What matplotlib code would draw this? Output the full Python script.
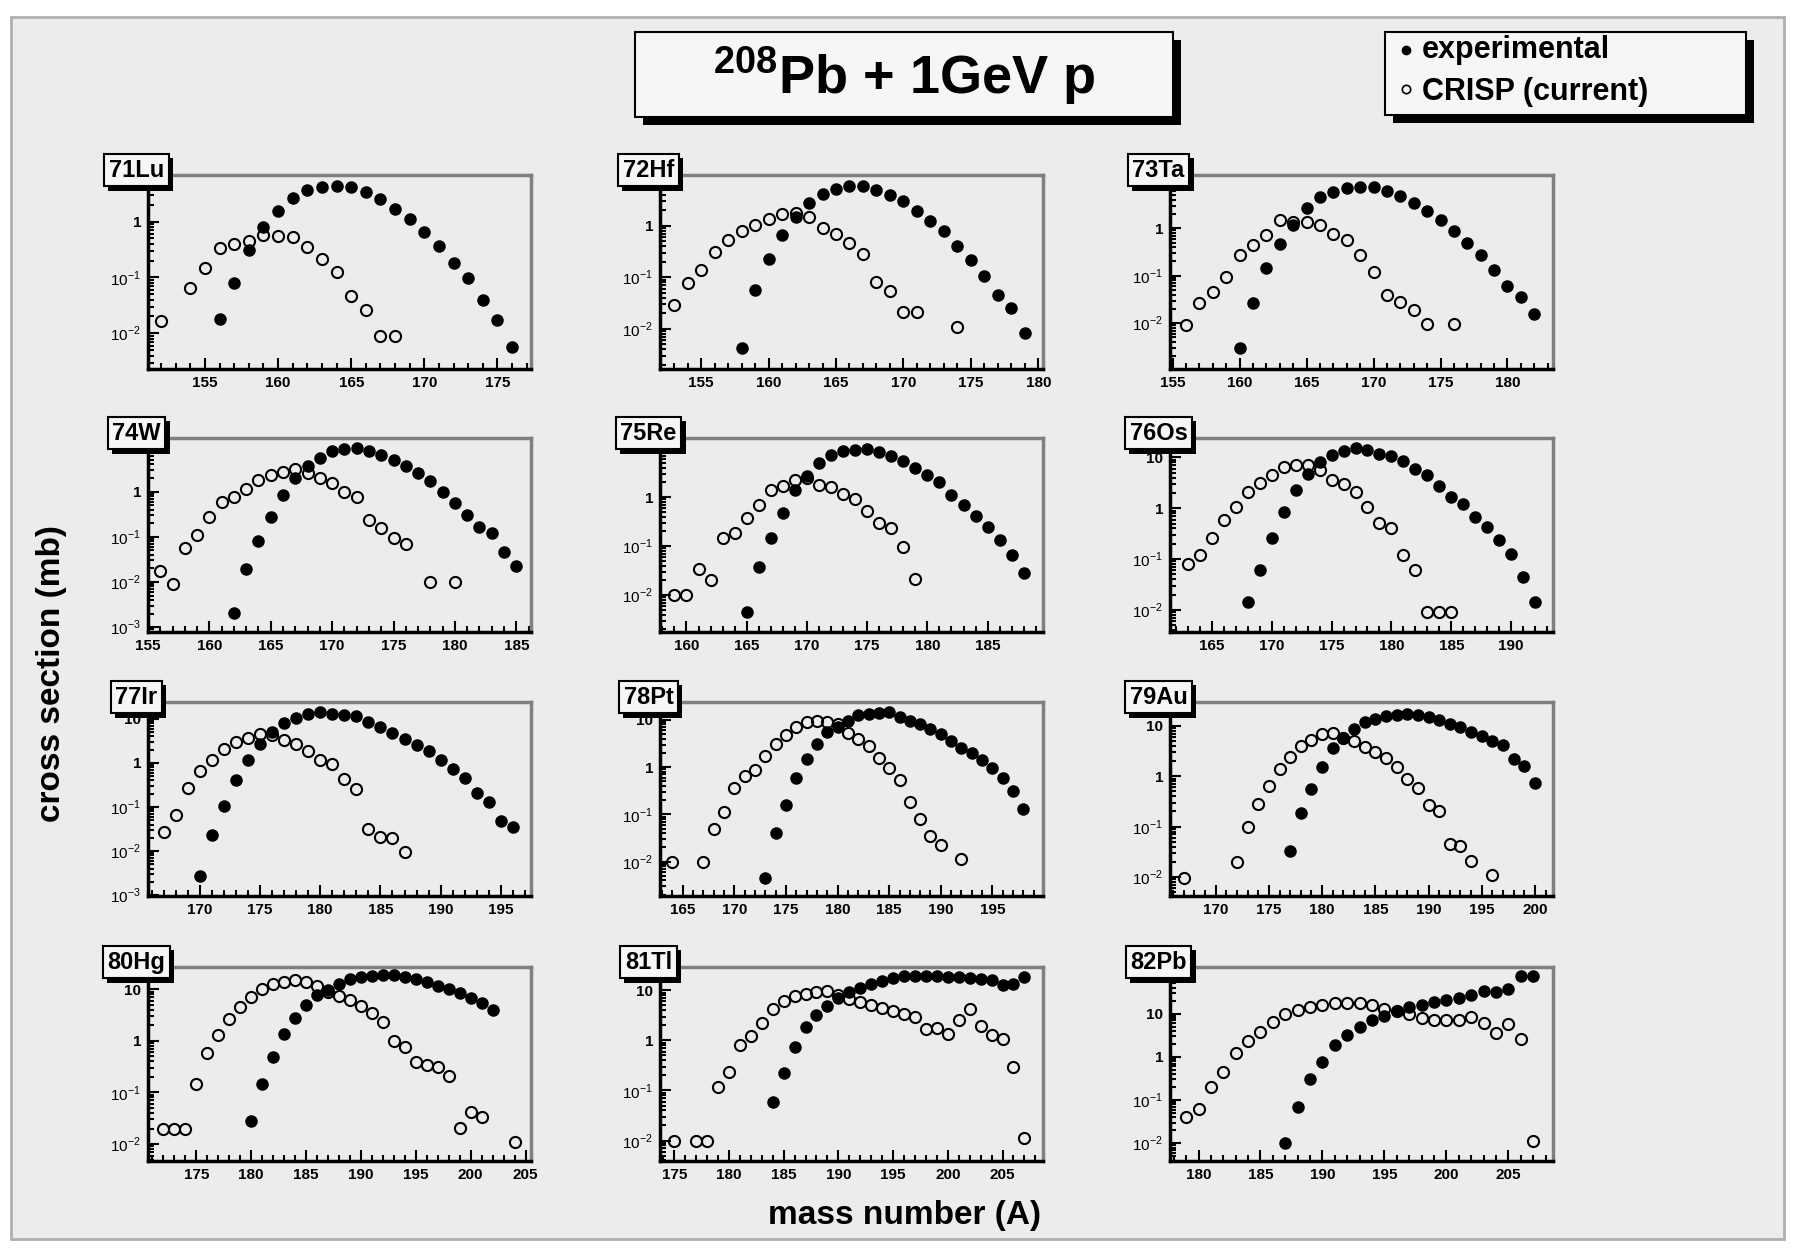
import numpy as np
import matplotlib.pyplot as plt
from matplotlib import patheffects
from matplotlib.lines import Line2D
from matplotlib.patches import Rectangle
from matplotlib.ticker import MultipleLocator, LogLocator, FuncFormatter, NullFormatter

plt.rcParams['font.family'] = ['Liberation Sans', 'DejaVu Sans']
plt.rcParams['mathtext.fontset'] = 'custom'
plt.rcParams['mathtext.rm'] = 'Liberation Sans'
plt.rcParams['mathtext.bf'] = 'Liberation Sans:bold'

# ---- data (cross sections in mb) ----
lu_exp_A = list(range(156, 177))
lu_exp = [0.018, 0.079, 0.31, 0.81, 1.57, 2.6, 3.6, 4.1, 4.3, 4.2, 3.4, 2.5, 1.7, 1.1,
          0.66, 0.37, 0.18, 0.097, 0.040, 0.0175, 0.0057]
lu_crisp_A = [152, 154, 155, 156, 157, 158, 159, 160, 161, 162, 163, 164, 165, 166, 167, 168]
lu_crisp = [0.0168, 0.064, 0.147, 0.33, 0.40, 0.44, 0.58, 0.54, 0.525, 0.35, 0.21, 0.123,
            0.047, 0.0265, 0.0088, 0.0088]

hf_exp_A = list(range(158, 180))
hf_exp = [0.0042, 0.057, 0.226, 0.66, 1.49, 2.79, 4.2, 5.05, 5.86, 5.86, 4.9, 3.9, 3.05,
          1.95, 1.25, 0.77, 0.40, 0.216, 0.106, 0.045, 0.025, 0.0082]
hf_crisp_A = list(range(153, 172)) + [174]
hf_crisp = [0.029, 0.077, 0.139, 0.31, 0.53, 0.80, 1.03, 1.33, 1.68, 1.79, 1.49, 0.89, 0.69,
            0.455, 0.28, 0.082, 0.053, 0.0207, 0.0207, 0.0108]

ta_exp_A = list(range(160, 183))
ta_exp = [0.0030, 0.0272, 0.144, 0.468, 1.17, 2.64, 4.5, 5.9, 6.95, 7.5, 7.3, 6.2, 4.8, 3.47,
          2.35, 1.5, 0.89, 0.483, 0.275, 0.133, 0.061, 0.0364, 0.0157]
ta_crisp_A = list(range(156, 175)) + [176]
ta_crisp = [0.0092, 0.027, 0.046, 0.093, 0.275, 0.446, 0.72, 1.5, 1.38, 1.38, 1.17, 0.76, 0.57,
            0.275, 0.122, 0.039, 0.0286, 0.019, 0.0097, 0.0097]

w_exp_A = list(range(162, 186))
w_exp = [0.00205, 0.0198, 0.0815, 0.278, 0.84, 1.98, 3.6, 5.5, 7.7, 8.7, 9.2, 7.7, 6.5, 5.05,
         3.7, 2.55, 1.67, 1.0, 0.57, 0.303, 0.167, 0.123, 0.046, 0.0223]
w_crisp_A = list(range(156, 177)) + [178, 180]
w_crisp = [0.0176, 0.0092, 0.055, 0.109, 0.278, 0.60, 0.75, 1.13, 1.82, 2.35, 2.64, 3.13, 2.55,
           1.98, 1.58, 1.0, 0.77, 0.235, 0.153, 0.092, 0.069, 0.010, 0.010]

re_exp_A = list(range(165, 189))
re_exp = [0.00456, 0.038, 0.145, 0.485, 1.41, 2.73, 4.97, 7.36, 8.6, 9.3, 9.6, 8.2, 6.8, 5.4,
          3.93, 2.87, 2.0, 1.12, 0.70, 0.415, 0.243, 0.134, 0.066, 0.0278]
re_crisp_A = list(range(159, 180))
re_crisp = [0.010, 0.010, 0.0336, 0.0203, 0.145, 0.189, 0.372, 0.70, 1.41, 1.71, 2.26, 2.45,
            1.79, 1.6, 1.17, 0.91, 0.533, 0.294, 0.232, 0.098, 0.021]

os_exp_A = list(range(168, 193))
os_exp = [0.0144, 0.0607, 0.256, 0.86, 2.3, 4.76, 7.96, 11.3, 13.1, 15.3, 13.7, 11.8, 10.5, 8.3,
          5.9, 4.55, 2.76, 1.7, 1.22, 0.66, 0.42, 0.237, 0.129, 0.0448, 0.0144]
os_crisp_A = list(range(163, 186))
os_crisp = [0.080, 0.12, 0.256, 0.59, 1.05, 2.13, 3.2, 4.55, 6.4, 7.2, 7.2, 5.7, 3.6, 3.0, 2.13,
            1.08, 0.506, 0.40, 0.12, 0.061, 0.0091, 0.0091, 0.0091]

ir_exp_A = list(range(170, 197))
ir_exp = [0.0027, 0.023, 0.104, 0.42, 1.19, 2.74, 5.03, 8.05, 10.6, 13.1, 14.3, 13.1, 12.0, 11.4,
          8.5, 6.5, 4.78, 3.56, 2.51, 1.87, 1.15, 0.744, 0.466, 0.209, 0.131, 0.0486, 0.0356]
ir_crisp_A = list(range(167, 188))
ir_crisp = [0.0274, 0.065, 0.276, 0.66, 1.15, 2.11, 2.99, 3.75, 4.46, 4.23, 3.38, 2.65, 1.87,
            1.15, 0.966, 0.44, 0.262, 0.031, 0.0211, 0.0194, 0.0097]

pt_exp_A = list(range(173, 199))
pt_exp = [0.0046, 0.0411, 0.158, 0.59, 1.46, 3.06, 5.44, 7.2, 9.7, 12.4, 13.4, 14.1, 14.6, 11.4,
          9.7, 8.2, 6.4, 5.0, 3.6, 2.6, 2.03, 1.39, 0.94, 0.59, 0.306, 0.13]
pt_crisp_A = [164] + list(range(167, 191)) + [192]
pt_crisp = [0.010, 0.010, 0.050, 0.114, 0.36, 0.64, 0.89, 1.72, 3.06, 4.85, 6.97, 8.9, 9.4, 8.9,
            8.2, 5.2, 3.9, 2.82, 1.58, 0.97, 0.544, 0.181, 0.079, 0.0349, 0.0228, 0.0114]

au_exp_A = list(range(177, 201))
au_exp = [0.0331, 0.188, 0.567, 1.54, 3.58, 5.8, 8.7, 11.8, 13.8, 15.4, 16.6, 17.1, 16.6, 14.7,
          13.0, 10.8, 9.3, 7.7, 6.4, 5.0, 4.17, 2.19, 1.61, 0.747]
au_crisp_A = [167] + list(range(172, 195)) + [196]
au_crisp = [0.0097, 0.020, 0.10, 0.284, 0.64, 1.38, 2.44, 4.04, 5.25, 6.8, 7.1, 5.7, 5.0, 3.86,
            2.97, 2.26, 1.54, 0.90, 0.58, 0.263, 0.20, 0.045, 0.0417, 0.0209, 0.0108]

hg_exp_A = list(range(180, 203))
hg_exp = [0.0277, 0.147, 0.497, 1.36, 2.77, 4.86, 7.66, 9.8, 12.7, 15.9, 17.1, 18.0, 18.5, 18.5,
          17.1, 15.9, 13.7, 11.4, 10.1, 8.4, 6.9, 5.5, 3.93]
hg_crisp_A = list(range(172, 202)) + [204]
hg_crisp = [0.0192, 0.0192, 0.0192, 0.143, 0.578, 1.29, 2.65, 4.57, 7.2, 10.1, 12.7, 14.1, 15.4,
            13.7, 11.4, 8.9, 7.4, 6.2, 4.71, 3.48, 2.27, 1.0, 0.76, 0.384, 0.345, 0.306, 0.209,
            0.0204, 0.0424, 0.0337, 0.0108]

tl_exp_A = list(range(184, 208))
tl_exp = [0.058, 0.225, 0.733, 1.86, 3.16, 4.89, 7.2, 9.1, 11.0, 13.4, 15.7, 17.5, 19.2, 19.8,
          19.2, 19.2, 18.4, 18.4, 17.5, 17.0, 16.4, 12.8, 13.4, 18.4]
tl_crisp_A = [175, 177, 178] + list(range(179, 208))
tl_crisp = [0.010, 0.010, 0.010, 0.117, 0.235, 0.817, 1.24, 2.18, 4.32, 6.2, 7.6, 8.4, 9.4, 9.8,
            8.0, 6.7, 5.9, 5.05, 4.52, 3.87, 3.31, 2.97, 1.7, 1.78, 1.36, 2.54, 4.32, 1.92, 1.30,
            1.06, 0.297, 0.011]

pb_exp_A = list(range(187, 208))
pb_exp = [0.0102, 0.068, 0.302, 0.748, 1.85, 3.19, 4.84, 6.96, 8.8, 11.4, 14.4, 15.7, 18.2,
          20.6, 23.5, 27.1, 33.7, 31.3, 37.6, 73, 73]
pb_crisp_A = list(range(179, 208))
pb_crisp = [0.041, 0.062, 0.203, 0.458, 1.2, 2.34, 3.83, 6.35, 10.0, 12.0, 14.4, 15.7, 17.2,
            17.2, 17.2, 15.7, 13.1, 11.4, 10.0, 7.9, 6.96, 6.96, 6.96, 8.3, 6.1, 3.56, 5.8,
            2.57, 0.0116]

names = ["71Lu", "72Hf", "73Ta", "74W", "75Re", "76Os",
         "77Ir", "78Pt", "79Au", "80Hg", "81Tl", "82Pb"]
exp_A = [lu_exp_A, hf_exp_A, ta_exp_A, w_exp_A, re_exp_A, os_exp_A,
         ir_exp_A, pt_exp_A, au_exp_A, hg_exp_A, tl_exp_A, pb_exp_A]
exp_v = [lu_exp, hf_exp, ta_exp, w_exp, re_exp, os_exp,
         ir_exp, pt_exp, au_exp, hg_exp, tl_exp, pb_exp]
crisp_A = [lu_crisp_A, hf_crisp_A, ta_crisp_A, w_crisp_A, re_crisp_A, os_crisp_A,
           ir_crisp_A, pt_crisp_A, au_crisp_A, hg_crisp_A, tl_crisp_A, pb_crisp_A]
crisp_v = [lu_crisp, hf_crisp, ta_crisp, w_crisp, re_crisp, os_crisp,
           ir_crisp, pt_crisp, au_crisp, hg_crisp, tl_crisp, pb_crisp]

# axis ranges of each pad
xlims = [(151.1, 177.3), (151.95, 180.35), (154.8, 183.4),
         (155.0, 186.2), (157.8, 189.6), (161.5, 193.5),
         (165.7, 197.5), (162.8, 199.9), (165.7, 201.7),
         (170.6, 205.5), (173.7, 208.7), (177.7, 208.6)]
ylims = [(0.0023, 6.8), (0.00165, 9.6), (0.00108, 13.3),
         (0.00078, 15.3), (0.00177, 16.1), (0.0037, 24),
         (0.00096, 24), (0.00187, 23.9), (0.0042, 29.7),
         (0.0047, 27), (0.0039, 29.3), (0.0039, 120)]

W, H = 1795, 1249
BG = '#ececec'
fig = plt.figure(figsize=(W / 100, H / 100), dpi=100)
fig.patch.set_facecolor('white')
fig.add_artist(Rectangle((0.006, 0.008), 0.988, 0.978, transform=fig.transFigure,
                         facecolor=BG, edgecolor='#b0b0b0', lw=2, zorder=-10))

shadow = [patheffects.withSimplePatchShadow(offset=(3, -3), shadow_rgbFace='black', alpha=1.0)]


def make_fmt(ytop):
    # labels sitting right under the pad's name box are hidden, as in the original
    def fmt(v, pos):
        e = int(round(np.log10(v)))
        if np.log10(ytop) - e < 0.15 or e > 1:
            return ''
        if e == 0:
            return '1'
        if e == 1:
            return '10'
        return r'$10^{%d}$' % e
    return fmt


col_left = [148, 660, 1170]
row_top = [175, 438, 702, 967]
pw, ph = 383, 194

for i in range(12):
    r, c = divmod(i, 3)
    ax = fig.add_axes([col_left[c] / W, 1 - (row_top[r] + ph) / H, pw / W, ph / H])
    ax.set_facecolor(BG)
    ax.plot(exp_A[i], exp_v[i], 'o', color='black', ms=8, zorder=4)
    ax.plot(crisp_A[i], crisp_v[i], 'o', mfc='none', mec='black', mew=1.5, ms=8, zorder=3)
    ax.set_yscale('log')
    ax.set_xlim(*xlims[i])
    ax.set_ylim(*ylims[i])
    ax.xaxis.set_major_locator(MultipleLocator(5))
    ax.xaxis.set_minor_locator(MultipleLocator(1))
    ax.yaxis.set_major_locator(LogLocator(base=10, numticks=10))
    ax.yaxis.set_minor_locator(LogLocator(base=10, subs=np.arange(2, 10), numticks=20))
    ax.yaxis.set_major_formatter(FuncFormatter(make_fmt(ylims[i][1])))
    ax.yaxis.set_minor_formatter(NullFormatter())
    ax.tick_params(which='both', direction='in', top=False, right=False, width=1.5,
                   labelsize=11, colors='black')
    ax.tick_params(which='major', length=8, pad=5)
    ax.tick_params(which='minor', length=4)
    for lab in ax.get_xticklabels() + ax.get_yticklabels():
        lab.set_fontweight('bold')
    for s in ('left', 'bottom'):
        ax.spines[s].set_linewidth(2.5)
        ax.spines[s].set_color('black')
    for s in ('top', 'right'):
        ax.spines[s].set_linewidth(2.5)
        ax.spines[s].set_color('#808080')
    t = ax.text(-0.03, 1.025, names[i], transform=ax.transAxes, ha='center', va='center',
                fontsize=17, fontweight='bold', zorder=20,
                bbox=dict(boxstyle='square,pad=0.2', fc='#f6f6f6', ec='black', lw=1.5))
    t.get_bbox_patch().set_path_effects(shadow)

# title box
tb = Rectangle((635 / W, 1 - 117 / H), 538 / W, 85 / H, transform=fig.transFigure,
               facecolor='#f6f6f6', edgecolor='black', lw=1.5, zorder=5)
tb.set_path_effects([patheffects.withSimplePatchShadow(offset=(6, -6), shadow_rgbFace='black',
                                                      alpha=1.0)])
fig.add_artist(tb)
fig.text(904 / W, 1 - 76 / H, r'$^{\mathbf{208}}$Pb + 1GeV p', ha='center', va='center',
         fontsize=39, fontweight='bold', zorder=6)

# legend box
lb = Rectangle((1385 / W, 1 - 115 / H), 361 / W, 83 / H, transform=fig.transFigure,
               facecolor='#f6f6f6', edgecolor='black', lw=1.5, zorder=5)
lb.set_path_effects([patheffects.withSimplePatchShadow(offset=(6, -6), shadow_rgbFace='black',
                                                      alpha=1.0)])
fig.add_artist(lb)
fig.add_artist(Line2D([1406 / W], [1 - 50 / H], marker='o', color='black', ms=6,
                      transform=fig.transFigure, zorder=6))
fig.add_artist(Line2D([1406 / W], [1 - 89 / H], marker='o', mfc='none', mec='black', mew=1.2,
                      ms=6, transform=fig.transFigure, zorder=6))
fig.text(1422 / W, 1 - 50 / H, 'experimental', ha='left', va='center', fontsize=22,
         fontweight='bold', zorder=6)
fig.text(1422 / W, 1 - 92 / H, 'CRISP (current)', ha='left', va='center', fontsize=22,
         fontweight='bold', zorder=6)

# axis titles
fig.text(0.0287, 0.461, 'cross section (mb)', rotation=90, ha='center', va='center',
         fontsize=24, fontweight='bold')
fig.text(0.5038, 0.0266, 'mass number (A)', ha='center', va='center', fontsize=24,
         fontweight='bold')

fig.savefig('out.png', dpi=100, facecolor=fig.get_facecolor())
